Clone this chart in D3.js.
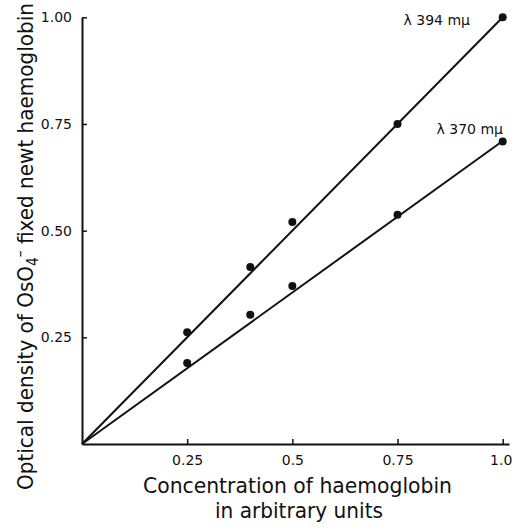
<!DOCTYPE html>
<html>
<head>
<meta charset="utf-8">
<script src="https://cdn.jsdelivr.net/npm/d3@7"></script>
<style>
  body { margin: 0; background: #fff; }
  text { font-family: "DejaVu Sans", sans-serif; fill: #111; }
</style>
</head>
<body>
<script>
"use strict";
// concentration of haemoglobin (arbitrary units)
const conc = [0.25, 0.4, 0.5, 0.75, 1.0];
// optical density at 394 and 370 mu
const od394 = [0.262, 0.415, 0.52, 0.75, 1.0];
const od370 = [0.19, 0.303, 0.37, 0.537, 0.709];
// fitted straight lines through the origin
const fit394 = [[0, 0], [1.0, 1.0]];
const fit370 = [[0, 0], [1.0, 0.71]];
const xTicks = [0.25, 0.5, 0.75, 1.0];
const xTickLabels = ["0.25", "0.5", "0.75", "1.0"];
const yTicks = [0.25, 0.5, 0.75, 1.0];
const yTickLabels = ["0.25", "0.50", "0.75", "1.00"];

const width = 514, height = 529;
const svg = d3.select("body").append("svg")
    .attr("width", width)
    .attr("height", height);

// x axis runs a little past 1.0
const x = d3.scaleLinear().domain([0, 1.015]).range([82, 509]);
const y = d3.scaleLinear().domain([0, 1]).range([444, 17.3]);

// axes: ticks point inward
const xAxis = d3.axisBottom(x)
    .tickValues(xTicks)
    .tickFormat((d, i) => xTickLabels[i])
    .tickSizeInner(-5)
    .tickSizeOuter(0)
    .tickPadding(11);
const yAxis = d3.axisLeft(y)
    .tickValues(yTicks)
    .tickFormat((d, i) => yTickLabels[i])
    .tickSizeInner(-5)
    .tickSizeOuter(0)
    .tickPadding(10);

const gx = svg.append("g")
    .attr("transform", "translate(0," + y(0) + ")")
    .call(xAxis);
const gy = svg.append("g")
    .attr("transform", "translate(" + x(0) + ",0)")
    .call(yAxis);

[gx, gy].forEach(g => {
  g.select(".domain").attr("stroke", "#111").attr("stroke-width", 2);
  g.selectAll(".tick line").attr("stroke", "#111").attr("stroke-width", 1.5);
  g.selectAll(".tick text")
      .attr("font-size", 14)
      .attr("font-family", "DejaVu Sans")
      .attr("fill", "#111");
});
// last x label sits at the page edge, nudge it in a little
gx.selectAll(".tick text").filter(d => d === 1.0).attr("dx", -2);

// fitted lines
const line = d3.line().x(d => x(d[0])).y(d => y(d[1]));
[fit394, fit370].forEach(f => {
  svg.append("path")
      .attr("d", line(f))
      .attr("fill", "none")
      .attr("stroke", "#111")
      .attr("stroke-width", 2);
});

// points
[od394, od370].forEach(series => {
  svg.selectAll(null)
      .data(conc.map((c, i) => [c, series[i]]))
      .enter()
      .append("circle")
      .attr("cx", d => x(d[0]))
      .attr("cy", d => y(d[1]))
      .attr("r", 4)
      .attr("fill", "#111");
});

// line labels
svg.append("text")
    .attr("x", 470)
    .attr("y", 25)
    .attr("text-anchor", "end")
    .attr("font-size", 14)
    .text("\u03bb 394  m\u03bc");
svg.append("text")
    .attr("x", 503)
    .attr("y", 134)
    .attr("text-anchor", "end")
    .attr("font-size", 14)
    .text("\u03bb 370  m\u03bc");

// axis titles (the original face is narrow, so squeeze DejaVu)
svg.append("text")
    .attr("x", 143)
    .attr("y", 493)
    .attr("font-size", 22)
    .attr("textLength", 309)
    .attr("lengthAdjust", "spacingAndGlyphs")
    .text("Concentration of haemoglobin");
svg.append("text")
    .attr("x", 215)
    .attr("y", 518)
    .attr("font-size", 22)
    .attr("textLength", 168)
    .attr("lengthAdjust", "spacingAndGlyphs")
    .text("in arbitrary units");

const ytg = svg.append("g");
const yt = ytg.append("text")
    .attr("font-size", 22);
yt.append("tspan").text("Optical density of OsO");
yt.append("tspan").attr("font-size", 15).attr("dy", 5).text("4");
yt.append("tspan").attr("font-size", 15).attr("dy", -13).text("\u2013");
yt.append("tspan").attr("dy", 8).text(" fixed newt haemoglobin");
// fit the rotated title between y = 490 and y = 3
const ylen = yt.node().getComputedTextLength();
const ys = 487 / ylen;
ytg.attr("transform", "translate(33,490) rotate(-90) scale(" + ys + ",1)");
</script>
</body>
</html>
